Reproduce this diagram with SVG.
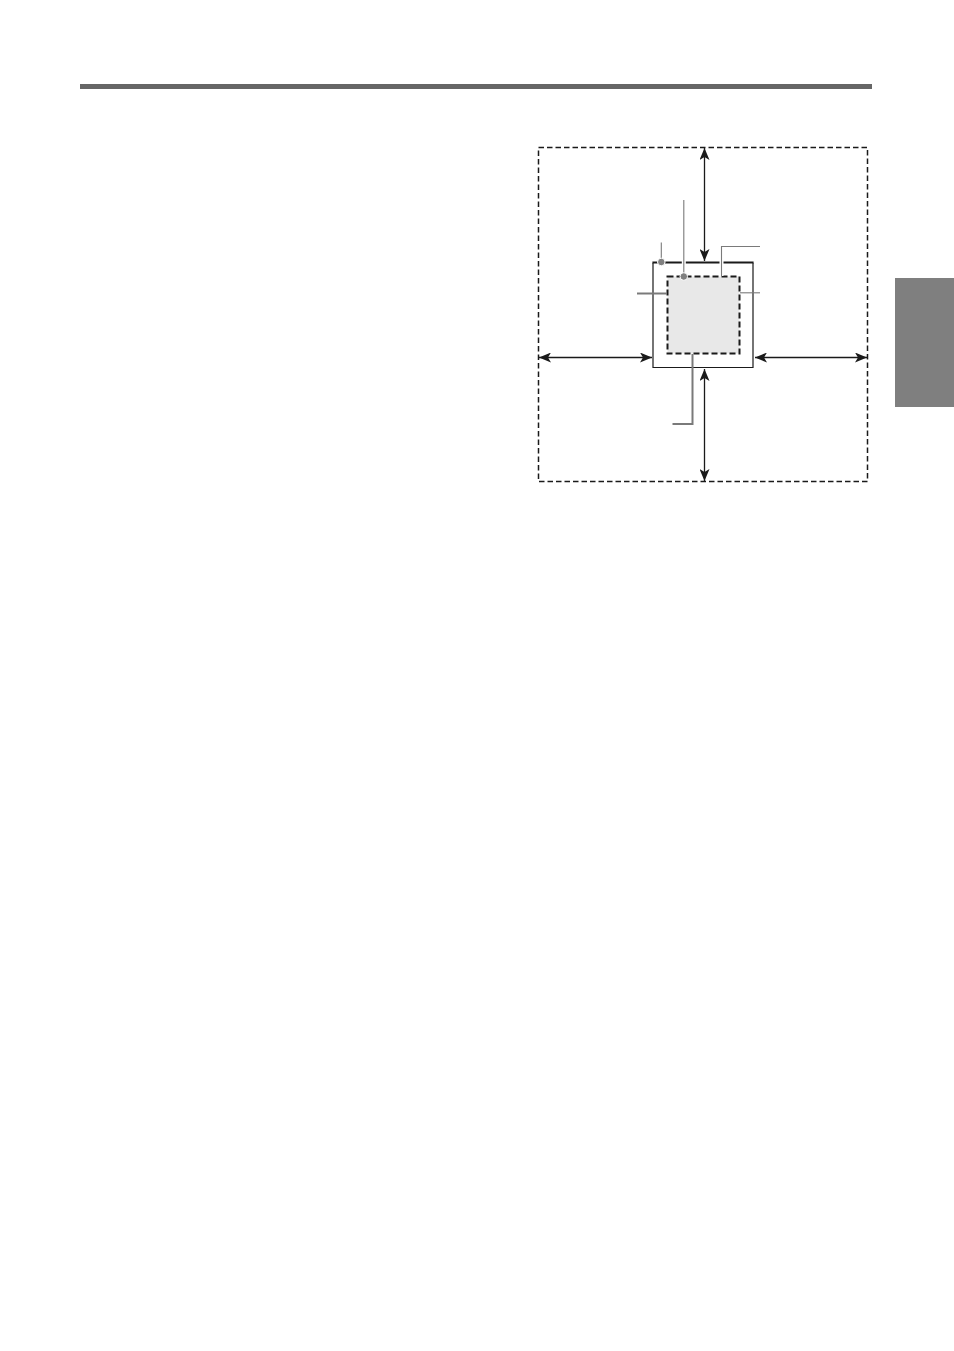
<svg xmlns="http://www.w3.org/2000/svg" width="954" height="1351" viewBox="0 0 954 1351">
<style>
.dim{stroke:#1a1a1a;stroke-width:1.3;fill:none}
.lead{stroke:#7a7a7a;stroke-width:1.1;fill:none}
.leadb{stroke:#7a7a7a;stroke-width:2;fill:none}
.dot{fill:#808080;stroke:#fff;stroke-width:1}
</style>
<defs>
<marker id="ah" viewBox="0 0 12 10" refX="12" refY="5" markerWidth="12" markerHeight="10" markerUnits="userSpaceOnUse" orient="auto-start-reverse">
<path d="M0,0 L12,5 L0,10 L3,5 Z" fill="#1a1a1a"/>
</marker>
</defs>
<rect x="0" y="0" width="954" height="1351" fill="#fff"/>
<rect id="topbar" x="80" y="84" width="792" height="5" fill="#666"/>
<rect id="sidetab" x="895" y="278" width="59" height="129" fill="#7f7f7f"/>
<g id="outer-area">
<rect x="538.5" y="147.5" width="329" height="334" fill="none" stroke="#1a1a1a" stroke-width="1.5" stroke-dasharray="5.5 3"/>
</g>
<g id="frame">
<path d="M653,263 V367.5 H753 V263" fill="none" stroke="#1a1a1a" stroke-width="1.2"/>
<line x1="652.4" y1="262.5" x2="753.6" y2="262.5" stroke="#1a1a1a" stroke-width="2"/>
</g>
<g id="inner-area">
<rect x="667.5" y="276.5" width="72" height="77" fill="#e8e8e8" stroke="#1a1a1a" stroke-width="2" stroke-dasharray="6 3"/>
</g>
<g id="connectors">
<line class="dim" x1="704.5" y1="148" x2="704.5" y2="261" marker-start="url(#ah)" marker-end="url(#ah)"/>
<line class="dim" x1="704.5" y1="369" x2="704.5" y2="481" marker-start="url(#ah)" marker-end="url(#ah)"/>
<line class="dim" x1="539" y1="357.5" x2="652" y2="357.5" marker-start="url(#ah)" marker-end="url(#ah)"/>
<line class="dim" x1="755" y1="357.5" x2="867" y2="357.5" marker-start="url(#ah)" marker-end="url(#ah)"/>
<line x1="683.8" y1="200" x2="683.8" y2="276" stroke="#fff" stroke-width="4"/>
<line class="lead" x1="683.8" y1="200" x2="683.8" y2="276"/>
<path d="M721.5,246.5 V276" stroke="#fff" stroke-width="4" fill="none"/>
<path class="lead" d="M721.5,276 V246.5 H760"/>
<line class="lead" x1="661.3" y1="242.5" x2="661.3" y2="262"/>
<circle class="dot" cx="661.3" cy="262" r="3.8"/>
<circle class="dot" cx="683.8" cy="276.5" r="3.8"/>
<line class="leadb" x1="637" y1="293.5" x2="667" y2="293.5"/>
<line class="lead" x1="740" y1="292.8" x2="760" y2="292.8"/>
<path class="leadb" d="M692.5,354 V424 H672.5"/>
</g>
</svg>
